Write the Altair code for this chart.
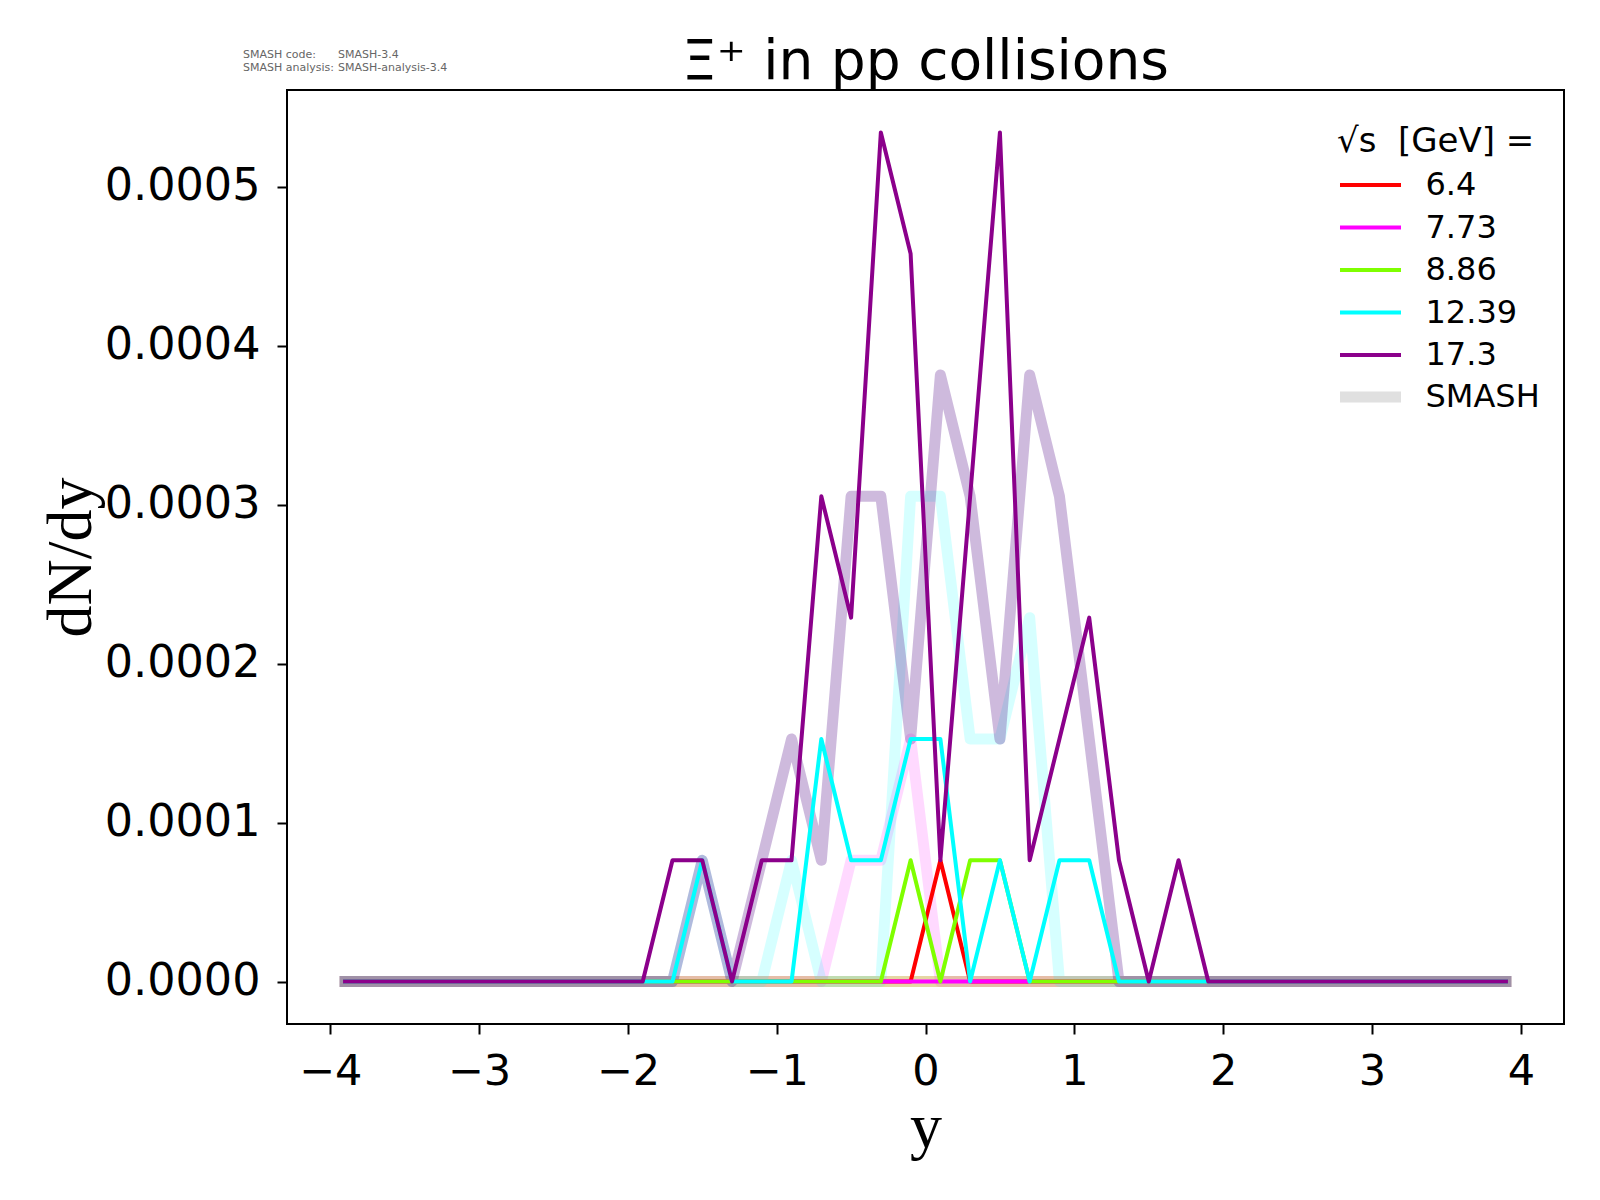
import altair as alt
import pandas as pd

# rapidity bin centres
y_centers = [-3.9, -3.7, -3.5, -3.3, -3.1, -2.9, -2.7, -2.5, -2.3, -2.1,
             -1.9, -1.7, -1.5, -1.3, -1.1, -0.9, -0.7, -0.5, -0.3, -0.1,
             0.1, 0.3, 0.5, 0.7, 0.9, 1.1, 1.3, 1.5, 1.7, 1.9,
             2.1, 2.3, 2.5, 2.7, 2.9, 3.1, 3.3, 3.5, 3.7, 3.9]

energy_labels = ["6.4", "7.73", "8.86", "12.39", "17.3"]
line_colors = ["#ff0000", "#ff00ff", "#7fff00", "#00ffff", "#8b008b"]
smash_colors = ["#ff0000", "#ff00ff", "#7fff00", "#00ffff", "#4b0082"]
smash_opacity = [0.2, 0.15, 0.2, 0.16, 0.27]

# thin lines dN/dy
thin_6p4 = [0, 0, 0, 0, 0, 0, 0, 0, 0, 0,
            0, 0, 0, 0, 0, 0, 0, 0, 0, 0,
            0.0000763, 0, 0, 0, 0, 0, 0, 0, 0, 0,
            0, 0, 0, 0, 0, 0, 0, 0, 0, 0]
thin_7p73 = [0, 0, 0, 0, 0, 0, 0, 0, 0, 0,
             0, 0, 0, 0, 0, 0, 0, 0, 0, 0,
             0, 0, 0, 0, 0, 0, 0, 0, 0, 0,
             0, 0, 0, 0, 0, 0, 0, 0, 0, 0]
thin_8p86 = [0, 0, 0, 0, 0, 0, 0, 0, 0, 0,
             0, 0, 0, 0, 0, 0, 0, 0, 0, 0.0000763,
             0, 0.0000763, 0.0000763, 0, 0, 0, 0, 0, 0, 0,
             0, 0, 0, 0, 0, 0, 0, 0, 0, 0]
thin_12p39 = [0, 0, 0, 0, 0, 0, 0, 0, 0, 0,
              0, 0, 0.0000763, 0, 0, 0, 0.0001526, 0.0000763, 0.0000763, 0.0001526,
              0.0001526, 0, 0.0000763, 0, 0.0000763, 0.0000763, 0, 0, 0, 0,
              0, 0, 0, 0, 0, 0, 0, 0, 0, 0]
thin_17p3 = [0, 0, 0, 0, 0, 0, 0, 0, 0, 0,
             0, 0.0000763, 0.0000763, 0, 0.0000763, 0.0000763, 0.0003052, 0.0002289, 0.0005341, 0.0004578,
             0.0000763, 0.0003052, 0.0005341, 0.0000763, 0.0001526, 0.0002289, 0.0000763, 0, 0.0000763, 0,
             0, 0, 0, 0, 0, 0, 0, 0, 0, 0]

# SMASH (thick, faded) dN/dy
smash_6p4 = [0, 0, 0, 0, 0, 0, 0, 0, 0, 0,
             0, 0, 0, 0, 0, 0, 0, 0, 0, 0,
             0, 0, 0, 0, 0, 0, 0, 0, 0, 0,
             0, 0, 0, 0, 0, 0, 0, 0, 0, 0]
smash_7p73 = [0, 0, 0, 0, 0, 0, 0, 0, 0, 0,
              0, 0, 0, 0, 0, 0, 0, 0.0000763, 0.0000763, 0.0001526,
              0, 0, 0, 0, 0, 0, 0, 0, 0, 0,
              0, 0, 0, 0, 0, 0, 0, 0, 0, 0]
smash_8p86 = [0, 0, 0, 0, 0, 0, 0, 0, 0, 0,
              0, 0, 0, 0, 0, 0, 0, 0, 0, 0,
              0, 0, 0, 0, 0, 0, 0, 0, 0, 0,
              0, 0, 0, 0, 0, 0, 0, 0, 0, 0]
smash_12p39 = [0, 0, 0, 0, 0, 0, 0, 0, 0, 0,
               0, 0, 0.0000763, 0, 0, 0.0000763, 0, 0, 0, 0.0003052,
               0.0003052, 0.0001526, 0.0001526, 0.0002289, 0, 0, 0, 0, 0, 0,
               0, 0, 0, 0, 0, 0, 0, 0, 0, 0]
smash_17p3 = [0, 0, 0, 0, 0, 0, 0, 0, 0, 0,
              0, 0, 0.0000763, 0, 0.0000763, 0.0001526, 0.0000763, 0.0003052, 0.0003052, 0.0001526,
              0.0003815, 0.0003052, 0.0001526, 0.0003815, 0.0003052, 0.0001526, 0, 0, 0, 0,
              0, 0, 0, 0, 0, 0, 0, 0, 0, 0]

thin_values = [thin_6p4, thin_7p73, thin_8p86, thin_12p39, thin_17p3]
smash_values = [smash_6p4, smash_7p73, smash_8p86, smash_12p39, smash_17p3]

x_ticks = [-4, -3, -2, -1, 0, 1, 2, 3, 4]
y_ticks = [0.0, 0.0001, 0.0002, 0.0003, 0.0004, 0.0005]

title_text = "Ξ⁺ in pp collisions"
legend_title = "√s\u00a0\u00a0[GeV] ="
smash_label = "SMASH"
note_keys = ["SMASH code:", "SMASH analysis:"]
note_vals = ["SMASH-3.4", "SMASH-analysis-3.4"]

rows_thin = []
rows_smash = []
for i, e in enumerate(energy_labels):
    for yv, v in zip(y_centers, thin_values[i]):
        rows_thin.append({"y": yv, "dndy": v, "energy": e})
    for yv, v in zip(y_centers, smash_values[i]):
        rows_smash.append({"y": yv, "dndy": v, "energy": e, "kind": smash_label,
                           "col": smash_colors[i], "op": smash_opacity[i]})
df_thin = pd.DataFrame(rows_thin)
df_smash = pd.DataFrame(rows_smash)

x_enc = alt.X("y:Q",
              scale=alt.Scale(domain=[-4.29, 4.29], nice=False, zero=False),
              axis=alt.Axis(values=x_ticks, format="d", title="y",
                            labelPadding=16, labelFlush=False, labelOverlap=False,
                            titleY=122, titleBaseline="alphabetic"))
y_enc = alt.Y("dndy:Q",
              scale=alt.Scale(domain=[-0.0000267, 0.0005608], nice=False, zero=False),
              axis=alt.Axis(values=y_ticks, format=".4f", title="dN/dy",
                            labelPadding=17, labelFlush=False, labelOverlap=False,
                            labelFontSize=44.5,
                            titleX=-216, titleY=467, titleAlign="center",
                            titleBaseline="middle"))

common_leg = dict(orient="none", legendX=1050,
                  symbolType="M-4,0H4", symbolSize=232.6, symbolOffset=17.5,
                  padding=0, labelOffset=39,
                  labelFont="DejaVu Sans", labelFontSize=32, labelColor="black")

leg_energy = alt.Legend(title=legend_title, legendY=35, symbolStrokeWidth=4,
                        titleFont="DejaVu Sans", titleFontSize=34,
                        titleFontWeight="normal", titleColor="black",
                        titlePadding=10, titleLimit=600, rowPadding=10.5,
                        **common_leg)
leg_smash = alt.Legend(title=None, legendY=291, symbolStrokeColor="#e0e0e0",
                       **common_leg)

thick = alt.Chart(df_smash).mark_line(color="#e0e0e0", strokeCap="square",
                                      strokeJoin="round").encode(
    x=x_enc, y=y_enc,
    stroke=alt.Stroke("col:N", scale=None),
    opacity=alt.Opacity("op:Q", scale=None),
    strokeWidth=alt.StrokeWidth("kind:N",
                                scale=alt.Scale(type="ordinal", domain=[smash_label],
                                                range=[11]),
                                legend=leg_smash),
    detail="energy:N",
)

thin = alt.Chart(df_thin).mark_line(strokeWidth=4, strokeCap="square",
                                    strokeJoin="round").encode(
    x=x_enc, y=y_enc,
    stroke=alt.Stroke("energy:N", sort=energy_labels,
                      scale=alt.Scale(domain=energy_labels, range=line_colors),
                      legend=leg_energy),
)

note_style = dict(align="left", baseline="alphabetic", fontSize=11, color="#666666",
                  font="DejaVu Sans", lineBreak="\n", lineHeight=12.7)
note_left = alt.Chart(pd.DataFrame({"t": ["\n".join(note_keys)]})).mark_text(
    **note_style).encode(x=alt.value(-44), y=alt.value(-32), text="t:N")
note_right = alt.Chart(pd.DataFrame({"t": ["\n".join(note_vals)]})).mark_text(
    **note_style).encode(x=alt.value(51), y=alt.value(-32), text="t:N")

title_mark = alt.Chart(pd.DataFrame({"t": [title_text]})).mark_text(
    align="center", baseline="alphabetic", fontSize=55, color="black",
    font="DejaVu Sans").encode(x=alt.value(638.5), y=alt.value(-11), text="t:N")

chart = alt.layer(thick, thin, note_left, note_right, title_mark).properties(
    width=1277, height=934,
    padding={"left": 279, "top": 82, "right": 20, "bottom": 150},
    autosize=alt.AutoSizeParams(type="none"),
).configure_view(
    stroke="black", strokeWidth=2
).configure_axis(
    labelFont="DejaVu Sans", labelFontSize=43, labelColor="black",
    tickColor="black", tickWidth=2, tickSize=10, domain=False, grid=False,
    titleFont="Liberation Serif", titleFontSize=64, titleFontWeight="normal",
    titleColor="black",
)

chart.save("out.html", embed_options={"renderer": "svg", "actions": False})
